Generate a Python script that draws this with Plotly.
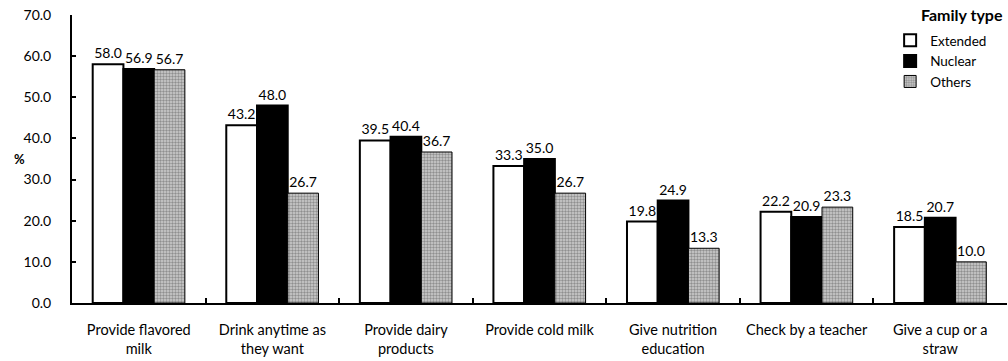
import plotly.graph_objects as go

categories = [
    "Provide flavored<br>milk",
    "Drink anytime as<br>they want",
    "Provide dairy<br>products",
    "Provide cold milk<br> ",
    "Give nutrition<br>education",
    "Check by a teacher<br> ",
    "Give a cup or a<br>straw",
]
extended = [58.0, 43.2, 39.5, 33.3, 19.8, 22.2, 18.5]
nuclear = [56.9, 48.0, 40.4, 35.0, 24.9, 20.9, 20.7]
others = [56.7, 26.7, 36.7, 26.7, 13.3, 23.3, 10.0]
y_ticks = [0, 10, 20, 30, 40, 50, 60, 70]

FONT = "Lato"
fig = go.Figure()

common = dict(
    textposition="outside",
    texttemplate="%{y:.1f}",
    textfont=dict(family=FONT, size=14, color="black"),
    cliponaxis=False,
    constraintext="none",
)

fig.add_trace(go.Bar(
    name="Extended", x=categories, y=extended,
    marker=dict(color="white", line=dict(color="black", width=2)),
    **common,
))
fig.add_trace(go.Bar(
    name="Nuclear", x=categories, y=nuclear,
    marker=dict(color="black", line=dict(color="black", width=2)),
    **common,
))
fig.add_trace(go.Bar(
    name="Others", x=categories, y=others,
    marker=dict(
        color="#cfcfcf",
        line=dict(color="black", width=1),
        pattern=dict(shape=".", fgcolor="#4f4f4f", bgcolor="#cfcfcf", size=3, solidity=0.5),
    ),
    **common,
))

fig.update_layout(
    width=1008, height=361,
    margin=dict(l=72, r=1, t=15, b=58),
    plot_bgcolor="white", paper_bgcolor="white",
    barmode="group", bargap=0.31, bargroupgap=0,
    font=dict(family=FONT, size=14, color="black"),
    showlegend=True,
    legend=dict(
        x=0.875, xanchor="left", y=0.965, yanchor="top",
        bgcolor="rgba(0,0,0,0)",
        font=dict(family=FONT, size=13.5),
        itemwidth=30,
        tracegroupgap=0,
    ),
    xaxis=dict(
        showline=True, linecolor="black", linewidth=2,
        ticks="inside", tickson="boundaries", ticklen=5, tickcolor="black", tickwidth=1.5,
        tickfont=dict(family=FONT, size=14.5),
        tickangle=0, automargin=False,
        ticklabelstandoff=13,
        showgrid=False,
    ),
    yaxis=dict(
        range=[0, 70], tickvals=y_ticks, tickformat=".1f",
        showline=True, linecolor="black", linewidth=2,
        ticks="inside", ticklen=4, tickcolor="black", tickwidth=1.5,
        tickfont=dict(family=FONT, size=14),
        showgrid=False, zeroline=False, automargin=False,
        ticklabelstandoff=16,
    ),
    annotations=[
        dict(
            text="<b>%</b>", xref="paper", yref="paper", x=0, y=0.5,
            xshift=-60, showarrow=False, font=dict(family=FONT, size=13),
        ),
        dict(
            text="<b>Family type</b>", xref="paper", yref="paper", x=1, y=1,
            xanchor="right", yanchor="middle", xshift=-2, yshift=1,
            showarrow=False, font=dict(family=FONT, size=16),
        ),
    ],
)

fig.write_html("out.html")
